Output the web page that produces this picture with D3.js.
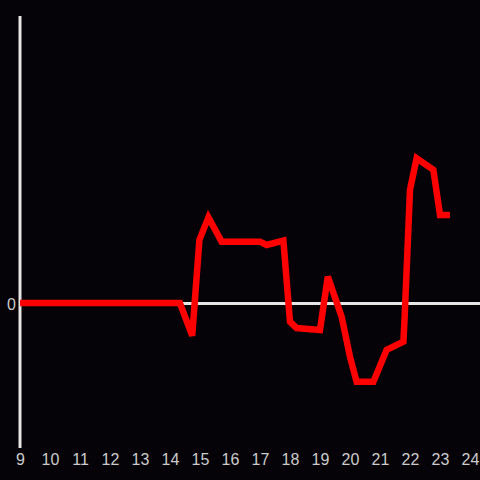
<!DOCTYPE html>
<html>
<head>
<meta charset="utf-8">
<script src="https://cdn.jsdelivr.net/npm/d3@7"></script>
<style>
  html, body { margin: 0; padding: 0; background: #050308; }
  svg { display: block; }
</style>
</head>
<body>
<div id="chart-area"></div>
<script>
// time of day in hours, value relative to zero
const hours = [9, 14.33, 14.74, 14.98, 15.28, 15.72, 17.0, 17.22, 17.78, 18.0, 18.22, 19.0,
    19.26, 19.72, 20.0, 20.22, 20.78, 21.22, 21.78, 21.82, 22.0, 22.22, 22.78, 23.0, 23.33];
const values = [0, 0, -0.227, 0.438, 0.595, 0.426, 0.426, 0.403, 0.433, -0.13, -0.174, -0.188,
    0.183, -0.095, -0.373, -0.547, -0.547, -0.326, -0.269, -0.104, 0.785, 1.005, 0.924, 0.611, 0.611];
const xTicks = d3.range(9, 25);
const yTicks = [0];

const width = 480, height = 480;
const svg = d3.select("#chart-area")
    .append("svg")
    .attr("width", width)
    .attr("height", height)
    .style("background", "#050308");

const x = d3.scaleLinear().domain([9, 24]).range([20, 470]);
const y = d3.scaleLinear().domain([-1.007, 1.993]).range([448, 16]);

// y axis line
svg.append("line")
    .attr("x1", x(9)).attr("x2", x(9))
    .attr("y1", y.range()[1]).attr("y2", y.range()[0])
    .attr("stroke", "#e6e6e6")
    .attr("stroke-width", 3);

// zero line
svg.append("line")
    .attr("x1", x(9)).attr("x2", width)
    .attr("y1", y(0) + 0.5).attr("y2", y(0) + 0.5)
    .attr("stroke", "#e6e6e6")
    .attr("stroke-width", 3);

// x tick labels
const xAxisCall = d3.axisBottom(x).tickValues(xTicks).tickSize(0).tickPadding(0)
    .tickFormat(d3.format("d"));
svg.append("g")
    .attr("transform", "translate(0, 454)")
    .call(xAxisCall)
    .call(g => g.select(".domain").remove())
    .selectAll("text")
    .attr("fill", "#cccccc")
    .attr("font-family", "Liberation Sans, Arial, sans-serif")
    .attr("font-size", "16px");

// y tick labels
const yAxisCall = d3.axisLeft(y).tickValues(yTicks).tickSize(0).tickPadding(0)
    .tickFormat(d3.format("d"));
svg.append("g")
    .attr("transform", "translate(16, 1)")
    .call(yAxisCall)
    .call(g => g.select(".domain").remove())
    .selectAll("text")
    .attr("fill", "#cccccc")
    .attr("font-family", "Liberation Sans, Arial, sans-serif")
    .attr("font-size", "16px");

const line = d3.line()
    .x((d, i) => x(hours[i]))
    .y(d => y(d));

svg.append("path")
    .datum(values)
    .attr("d", line)
    .attr("fill", "none")
    .attr("stroke", "#ff0000")
    .attr("stroke-width", 6.5)
    .attr("stroke-linejoin", "miter");
</script>
</body>
</html>
